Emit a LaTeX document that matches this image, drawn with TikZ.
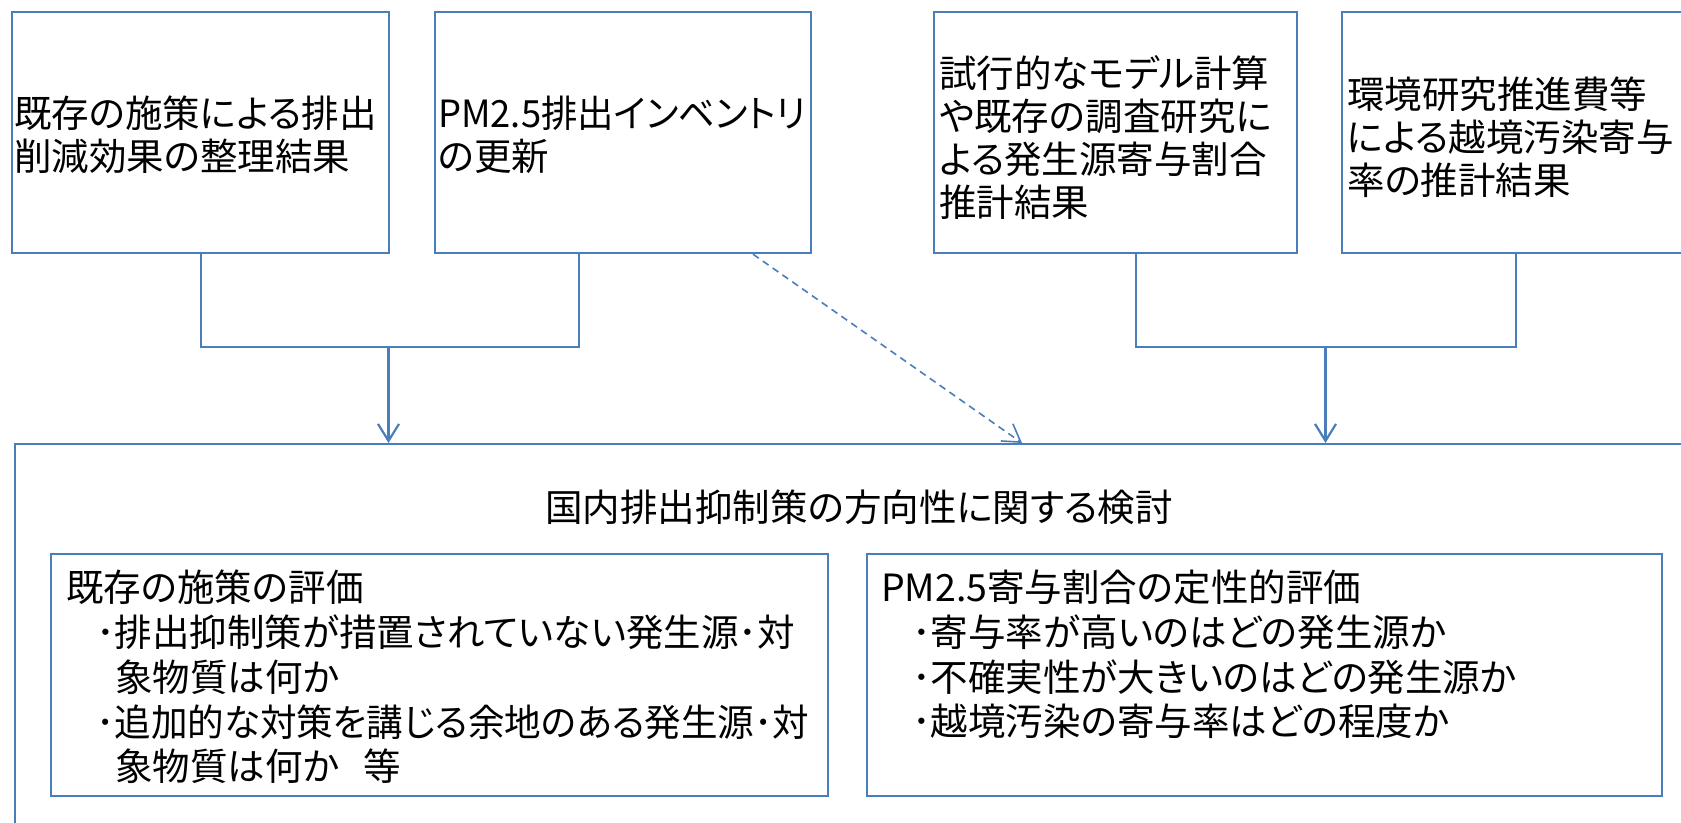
\documentclass[tikz,border=0pt]{standalone}
\usepackage{fontspec}
\newfontfamily\jp{Noto Sans CJK JP}[RawFeature={+palt}]
\usetikzlibrary{arrows.meta,calc}
\definecolor{lineblue}{RGB}{74,126,187}
\begin{document}
\begin{tikzpicture}[x=1pt,y=-1pt,
  box/.style={draw=lineblue,line width=2.2pt,inner sep=0pt,anchor=north west},
  txt/.style={font=\jp\fontsize{37.5}{43}\selectfont,inner sep=0pt,align=left,text=black},
  conn/.style={draw=lineblue,line width=2.2pt},
  arr/.style={draw=lineblue,line width=2.2pt,-{Straight Barb[length=17pt,width=21pt]}},
  dasharr/.style={draw=lineblue,line width=1.6pt,dash pattern=on 7pt off 5pt,-{Straight Barb[length=17pt,width=21pt]}}]
\useasboundingbox (0,0) rectangle (1681,822);
\clip (0,0) rectangle (1681,822);
\fill[white] (0,0) rectangle (1681,822);
% top boxes
\node[box,minimum width=377pt,minimum height=241pt] (b1) at (11,11) {};
\node[box,minimum width=376pt,minimum height=241pt] (b2) at (434,11) {};
\node[box,minimum width=363pt,minimum height=241pt] (b3) at (933,11) {};
\node[box,minimum width=348pt,minimum height=241pt] (b4) at (1341,11) {};
\node[txt,anchor=west] (t1) at (14,135) {既存の施策による排出\\削減効果の整理結果};
\node[txt,anchor=west] (t2) at (438,135) {\scalebox{0.97}[1]{PM2.5排出インベントリ}\\の更新};
\node[txt,anchor=west] (t3) at (939,138) {試行的なモデル計算\\や既存の調査研究に\\よる発生源寄与割合\\推計結果};
\node[txt,anchor=west] (t4) at (1347,137) {環境研究推進費等\\による越境汚染寄与\\率の推計結果};
% main box
\node[box,minimum width=1688pt,minimum height=420pt] (main) at (14,443) {};
\node[txt,anchor=base] (title) at (859,521) {国内排出抑制策の方向性に関する検討};
\node[box,minimum width=777pt,minimum height=242pt] (ia) at (50,553) {};
\node[box,minimum width=795pt,minimum height=242pt] (ib) at (866,553) {};
% inner texts
\node[txt,anchor=base west] (h1) at (66,601) {既存の施策の評価};
\node[txt,anchor=base west] (l11) at (96,646) {･排出抑制策が措置されていない発生源･対};
\node[txt,anchor=base west] (l12) at (115,691) {象物質は何か};
\node[txt,anchor=base west] (l13) at (96,736) {\scalebox{0.975}[1]{･追加的な対策を講じる余地のある発生源･対}};
\node[txt,anchor=base west] (l14) at (115,780) {象物質は何か\hspace{25pt}等};
\node[txt,anchor=base west] (h2) at (881,601) {PM2.5寄与割合の定性的評価};
\node[txt,anchor=base west] (l21) at (912,646) {･寄与率が高いのはどの発生源か};
\node[txt,anchor=base west] (l22) at (912,691) {･不確実性が大きいのはどの発生源か};
\node[txt,anchor=base west] (l23) at (912,735) {･越境汚染の寄与率はどの程度か};
% connectors
\coordinate (j1) at (388.5,347);
\coordinate (j2) at (1325.5,347);
\draw[conn] (b1.south) |- (j1) -| ([xshift=145pt]b2.south west);
\draw[arr] (j1) -- (j1 |- main.north);
\draw[conn] ([xshift=203pt]b3.south west) |- (j2) -| (b4.south);
\draw[arr] (j2) -- (j2 |- main.north);
\coordinate (dt) at ([xshift=1008pt]main.north west);
\draw[dasharr] ([xshift=319pt]b2.south west) -- (dt);
\end{tikzpicture}
\end{document}
